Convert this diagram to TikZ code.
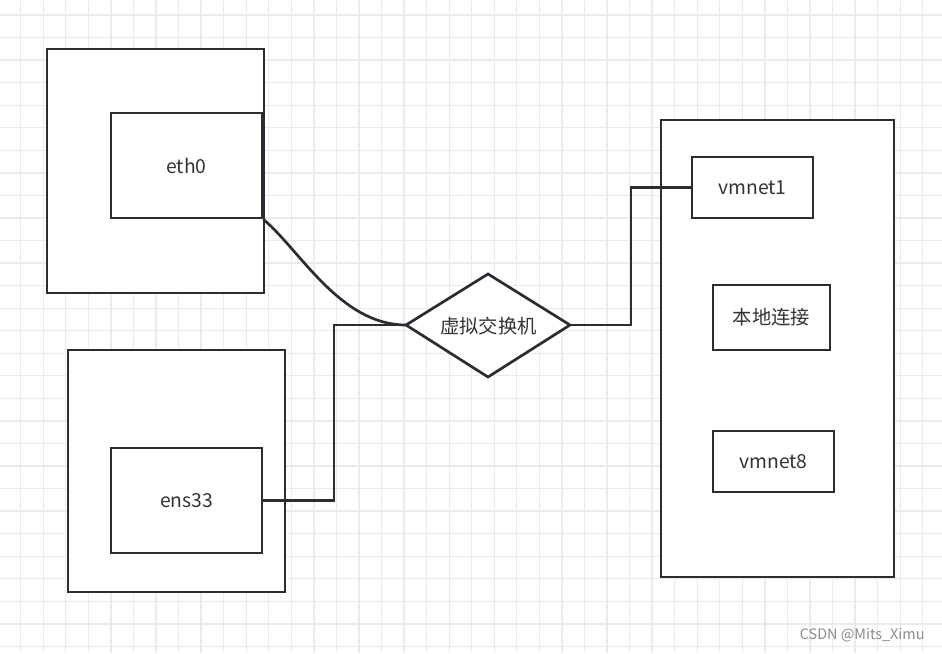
\documentclass[tikz,border=0pt]{standalone}
\usepackage{fontspec}
\setmainfont{Noto Sans CJK SC}
\begin{document}
\begin{tikzpicture}[x=1pt,y=-1pt,
  line/.style={draw=linec,line width=2.7pt},
  box/.style={draw=linec,line width=2.7pt,fill=white,inner sep=0pt},
  lbl/.style={text=textc,font=\fontsize{19.3}{21}\selectfont}]
\definecolor{linec}{HTML}{2A2E33}
\definecolor{textc}{HTML}{333333}
\definecolor{gridc}{HTML}{EBEBEB}
\useasboundingbox (0,0) rectangle (942,653);
\fill[white] (0,0) rectangle (942,653);
% grid
\foreach \i in {0,...,41} {
  \draw[gridc,line width=1.3pt] ({20.7+22.55*\i},0) -- ({20.7+22.55*\i},653);
}
\foreach \j in {0,...,28} {
  \draw[gridc,line width=1.3pt] (0,{15+22.55*\j}) -- (942,{15+22.55*\j});
}
% left outer boxes
\node[box,minimum width=217pt,minimum height=244pt] (out1) at (155.5,171) {};
\node[box,minimum width=217pt,minimum height=242pt] (out2) at (176.5,471) {};
% inner
\node[box,minimum width=151pt,minimum height=105pt,lbl] (eth) at (186.5,165.5) {eth0};
\node[box,minimum width=151pt,minimum height=105pt,lbl] (ens) at (186.5,500.5) {ens33};
% diamond
\coordinate (dl) at (406,325);
\coordinate (dr) at (570,325);
\coordinate (dt) at (488,274);
\coordinate (db) at (488,377);
\draw[line,fill=white,line join=miter] (dl) -- (dt) -- (dr) -- (db) -- cycle;
\node[lbl] (sw) at (488.5,326) {虚拟交换机};
% right box
\node[box,minimum width=233pt,minimum height=457pt] (out3) at (777.5,348.5) {};
\node[box,minimum width=121pt,minimum height=61pt,lbl] (vm1) at (752.5,187.5) {vmnet1};
\node[box,minimum width=117pt,minimum height=65pt,lbl] (bd) at (771.5,317.5) {本地连接};
\node[box,minimum width=121pt,minimum height=61pt,lbl] (vm8) at (773.5,461.5) {vmnet8};
% connectors
\draw[line] (eth.south east) .. controls (300,250) and (340,325) .. (dl);
\coordinate (e1) at (334,500.5);
\coordinate (e2) at (334,325);
\draw[line] (ens.east) -- (e1) -- (e2) -- (dl);
\coordinate (r1) at (631,325);
\coordinate (r2) at (631,187.5);
\draw[line] (dr) -- (r1) -- (r2) -- (vm1.west);
% watermark
\node[text=black!45,font=\fontsize{14.4}{16}\selectfont,anchor=east] (wm) at (928,635) {CSDN @Mits\_Ximu};
\end{tikzpicture}
\end{document}
